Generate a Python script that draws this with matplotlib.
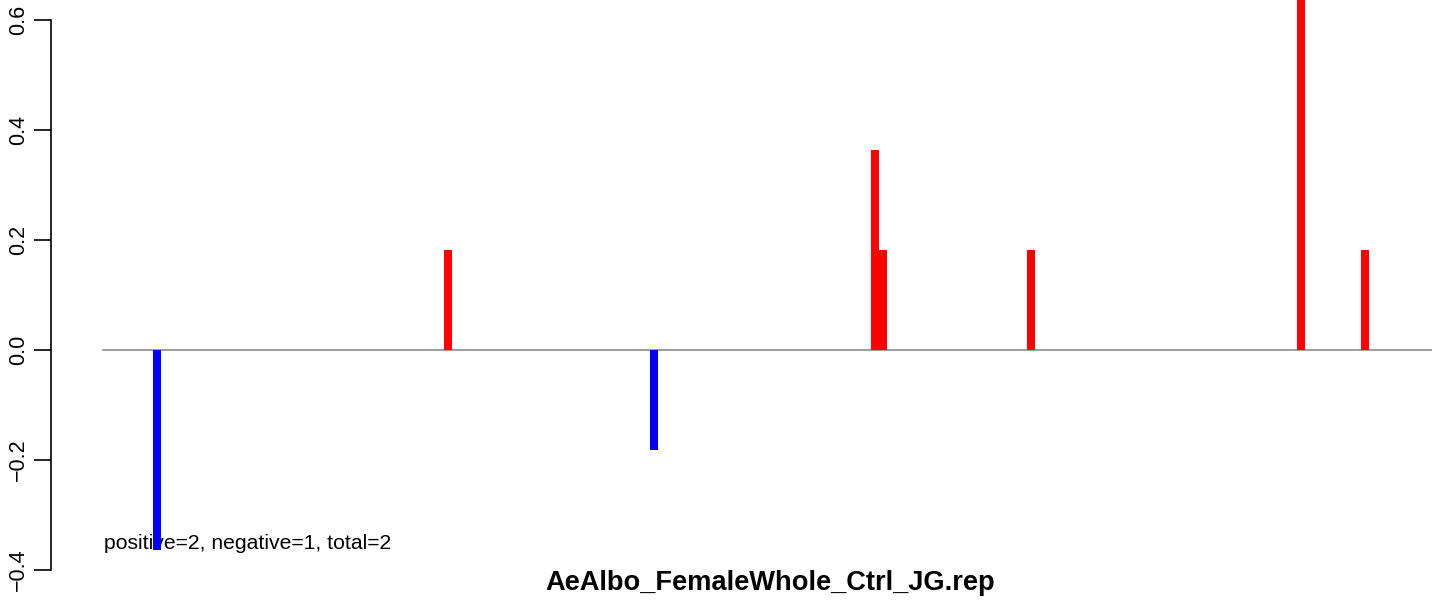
import matplotlib

matplotlib.use("Agg")
import matplotlib.pyplot as plt

plt.rcParams["font.family"] = ["Liberation Sans", "DejaVu Sans"]

# bar positions (arbitrary x units) and heights
positions = [157, 448, 654, 875, 882.5, 1031, 1301, 1365]
values = [-4 / 11, 2 / 11, -2 / 11, 4 / 11, 2 / 11, 2 / 11, 8 / 11, 2 / 11]
yticks = [-0.4, -0.2, 0.0, 0.2, 0.4, 0.6]
ytick_labels = ["\u22120.4", "\u22120.2", "0.0", "0.2", "0.4", "0.6"]
summary = "positive=2, negative=1, total=2"
title = "AeAlbo_FemaleWhole_Ctrl_JG.rep"

W, H = 1444, 604
fig = plt.figure(figsize=(W / 100, H / 100), dpi=100)
left, right, top, bottom = 51, 1432, 0, 576
ax = fig.add_axes([left / W, 1 - bottom / H, (right - left) / W, (bottom - top) / H])

colors = ["red" if v > 0 else "blue" for v in values]
ax.bar(positions, values, width=8, color=colors, zorder=3)
ax.plot([103, 1432], [0, 0], color="#8c8c8c", lw=1.2, zorder=2)
ax.text(104, (350 - 549) / 550, summary, fontsize=15.2, va="baseline", ha="left", zorder=1)

ax.set_xlim(left, right)
ax.set_ylim((350 - bottom) / 550, (350 - top) / 550)
ax.set_xticks([])
ax.set_yticks(yticks)
ax.set_yticklabels(ytick_labels, rotation=90, va="center", fontsize=15.5)
ax.tick_params(axis="y", length=12, width=1.2, pad=4)
for s in ["top", "right", "bottom"]:
    ax.spines[s].set_visible(False)
ax.spines["left"].set_bounds(-0.4, 0.6)
ax.spines["left"].set_linewidth(1.2)

fig.text(770 / W, 1 - 590 / H, title, ha="center", va="baseline",
         fontsize=19.6, fontweight="bold")

fig.savefig("out.png", dpi=100)
